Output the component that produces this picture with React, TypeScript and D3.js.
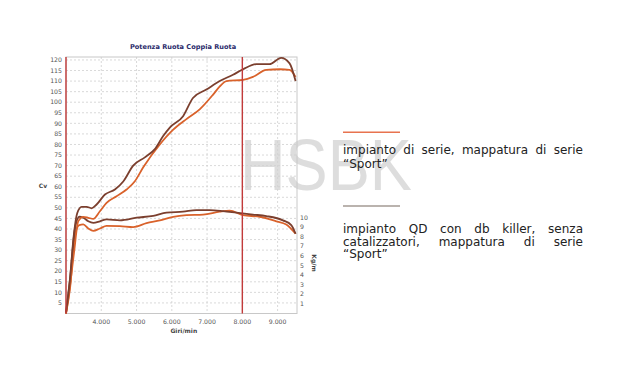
import React, { useEffect, useRef } from 'react';
import * as d3 from 'd3';

// rpm samples and readings (Cv = power, Kg/m = torque)
const serieRpm = [3000, 3113, 3226, 3349, 3490, 3632, 3773, 3962, 4150, 4434, 4717, 4953, 5190, 5660, 6040, 6415, 6790, 7170, 7360, 7550, 8020, 8300, 8680, 9060, 9340, 9510];
const seriePower = [0, 13, 28.7, 43.7, 45.7, 45.3, 44.8, 48.4, 52.4, 55.5, 58.7, 62.6, 69.2, 80, 87, 92, 96.6, 103.6, 107.5, 110, 110.6, 112, 115.3, 115.6, 115.3, 112];

const qdRpm = [3000, 3113, 3208, 3320, 3443, 3585, 3726, 3868, 4104, 4387, 4623, 4905, 5235, 5520, 5755, 5943, 6320, 6600, 6980, 7360, 7735, 8020, 8400, 8770, 9100, 9340, 9510];
const qdPower = [0.5, 16, 35, 47.6, 50.5, 50.5, 49.8, 51.6, 56.3, 58.7, 62.5, 70, 73.9, 77.8, 84, 88, 93.4, 102, 106, 110, 113, 115.6, 118, 118, 121, 118.4, 110];

const serieTqRpm = [3000, 3113, 3255, 3377, 3490, 3632, 3773, 3962, 4150, 4530, 4905, 5283, 5660, 6040, 6415, 6887, 7360, 7640, 8020, 8490, 8962, 9245, 9510];
const serieTorque = [0, 2.6, 8.2, 9.2, 9.27, 8.85, 8.6, 8.85, 9.13, 9.1, 9.0, 9.4, 9.7, 10.07, 10.24, 10.3, 10.6, 10.7, 10.24, 10.07, 9.6, 9.27, 8.3];

const qdTqRpm = [3000, 3113, 3255, 3377, 3490, 3632, 3773, 3962, 4150, 4530, 5000, 5472, 5850, 6320, 6698, 7075, 7453, 7830, 8300, 8680, 9150, 9387, 9510];
const qdTorque = [0, 3.6, 8.85, 10.07, 9.97, 9.6, 9.44, 9.6, 9.8, 9.7, 9.97, 10.17, 10.5, 10.6, 10.76, 10.76, 10.66, 10.5, 10.3, 10.14, 9.7, 9.2, 8.3];

const xTicks = [4000, 5000, 6000, 7000, 8000, 9000];
const cvTicks = d3.range(5, 121, 5);
const kgTicks = d3.range(1, 11, 1);
const markerRpm = [3000, 8000];

const legend = [
  { color: '#e8734f', lines: ['impianto di serie, mappatura di serie', '\u201CSport\u201D'] },
  { color: '#a39a93', lines: ['impianto QD con db killer, senza', 'catalizzatori, mappatura di serie', '\u201CSport\u201D'] },
];

export default function App() {
  const ref = useRef<SVGSVGElement>(null);

  useEffect(() => {
    const svg = d3.select(ref.current);
    svg.selectAll('*').remove();

    const left = 66, right = 297, top = 57, bottom = 313.5;
    const x = d3.scaleLinear().domain([3000, 9550]).range([left, right]);
    const y = d3.scaleLinear().domain([0, 121.4]).range([bottom, top]);
    const y2 = d3.scaleLinear().domain([0, 26.7]).range([bottom, top]);

    svg.append('rect').attr('width', 640).attr('height', 368).attr('fill', '#fff');

    // watermark
    svg.append('text')
      .attr('x', 240).attr('y', 190)
      .attr('font-family', 'Liberation Sans, Arial, sans-serif')
      .attr('font-size', 72)
      .attr('textLength', 172).attr('lengthAdjust', 'spacingAndGlyphs')
      .attr('fill', '#d8d8d8').attr('opacity', 0.85)
      .text('HSBK');

    const g = svg.append('g');

    // grid
    g.selectAll('.hg').data(cvTicks).enter().append('line')
      .attr('x1', left).attr('x2', right)
      .attr('y1', d => y(d)).attr('y2', d => y(d))
      .attr('stroke', '#cfcfcf').attr('stroke-width', 0.8).attr('stroke-dasharray', '2,2');
    g.selectAll('.vg').data(xTicks).enter().append('line')
      .attr('x1', d => x(d)).attr('x2', d => x(d))
      .attr('y1', top).attr('y2', bottom)
      .attr('stroke', '#cfcfcf').attr('stroke-width', 0.8).attr('stroke-dasharray', '2,2');

    g.append('rect')
      .attr('x', left).attr('y', top).attr('width', right - left).attr('height', bottom - top)
      .attr('fill', 'none').attr('stroke', '#c8c8c8').attr('stroke-width', 1);

    // curves
    const line = (xs: number[], ys: number[], sy: d3.ScaleLinear<number, number>) =>
      d3.line<number>().x((_, i) => x(xs[i])).y(d => sy(d)).curve(d3.curveMonotoneX)(ys);

    const curves = [
      { d: line(serieTqRpm, serieTorque, y2), c: '#d9622b' },
      { d: line(qdTqRpm, qdTorque, y2), c: '#7b3f2e' },
      { d: line(serieRpm, seriePower, y), c: '#d9622b' },
      { d: line(qdRpm, qdPower, y), c: '#7b3f2e' },
    ];
    g.selectAll('.curve').data(curves).enter().append('path')
      .attr('d', d => d.d).attr('fill', 'none')
      .attr('stroke', d => d.c).attr('stroke-width', 1.8).attr('stroke-linejoin', 'round');

    // red markers
    g.selectAll('.mk').data(markerRpm).enter().append('line')
      .attr('x1', d => x(d)).attr('x2', d => x(d))
      .attr('y1', top).attr('y2', bottom)
      .attr('stroke', '#c23b3b').attr('stroke-width', 1.4);

    const tickFont = 'DejaVu Sans, sans-serif';
    g.selectAll('.yl').data(cvTicks).enter().append('text')
      .attr('x', 62).attr('y', d => y(d) + 2.2)
      .attr('text-anchor', 'end').attr('font-family', tickFont).attr('font-size', 6.2).attr('fill', '#555')
      .text(d => d);
    g.selectAll('.y2l').data(kgTicks).enter().append('text')
      .attr('x', 300).attr('y', d => y2(d) + 2.2)
      .attr('font-family', tickFont).attr('font-size', 6.2).attr('fill', '#555')
      .text(d => d);
    g.selectAll('.xl').data(xTicks).enter().append('text')
      .attr('x', d => x(d)).attr('y', 324)
      .attr('text-anchor', 'middle').attr('font-family', tickFont).attr('font-size', 6.2).attr('fill', '#555')
      .text(d => d3.format(',')(d).replace(',', '.'));

    g.append('text').attr('x', x(6000) + 12).attr('y', 332.5)
      .attr('text-anchor', 'middle').attr('font-family', tickFont).attr('font-size', 6).attr('font-weight', 'bold').attr('fill', '#444')
      .text('Giri/min');
    g.append('text').attr('x', 43).attr('y', 188)
      .attr('text-anchor', 'middle').attr('font-family', tickFont).attr('font-size', 6).attr('font-weight', 'bold').attr('fill', '#444')
      .text('Cv');
    g.append('text').attr('transform', 'translate(312,263) rotate(90)')
      .attr('text-anchor', 'middle').attr('font-family', tickFont).attr('font-size', 6).attr('font-weight', 'bold').attr('fill', '#444')
      .text('Kg/m');
    g.append('text').attr('x', 183).attr('y', 49)
      .attr('text-anchor', 'middle').attr('font-family', tickFont).attr('font-size', 6.6).attr('font-weight', 'bold').attr('fill', '#2a2a6a')
      .text('Potenza Ruota Coppia Ruota');

    // legend with justified text
    const lx = 343, lw = 240;
    const lineY = [132.3, 206];
    const textY = [[154, 167.5], [233, 245.5, 258]];
    legend.forEach((item, k) => {
      svg.append('line').attr('x1', lx).attr('x2', lx + 57).attr('y1', lineY[k]).attr('y2', lineY[k])
        .attr('stroke', item.color).attr('stroke-width', 1.5);
      item.lines.forEach((txt, j) => {
        const words = txt.split(' ');
        const last = j === item.lines.length - 1;
        const nodes = words.map(w => svg.append('text')
          .attr('y', textY[k][j]).attr('font-family', 'DejaVu Sans, sans-serif').attr('font-size', 12).attr('fill', '#222')
          .text(w));
        const widths = nodes.map(n => (n.node() as SVGTextElement).getComputedTextLength());
        const total = d3.sum(widths);
        const space = last || words.length < 2 ? 3.5 : (lw - total) / (words.length - 1);
        let cx = lx;
        nodes.forEach((n, i) => { n.attr('x', cx); cx += widths[i] + space; });
      });
    });
  }, []);

  return (
    <svg ref={ref} width={640} height={368} style={{ position: 'absolute', left: 0, top: 0 }} />
  );
}
